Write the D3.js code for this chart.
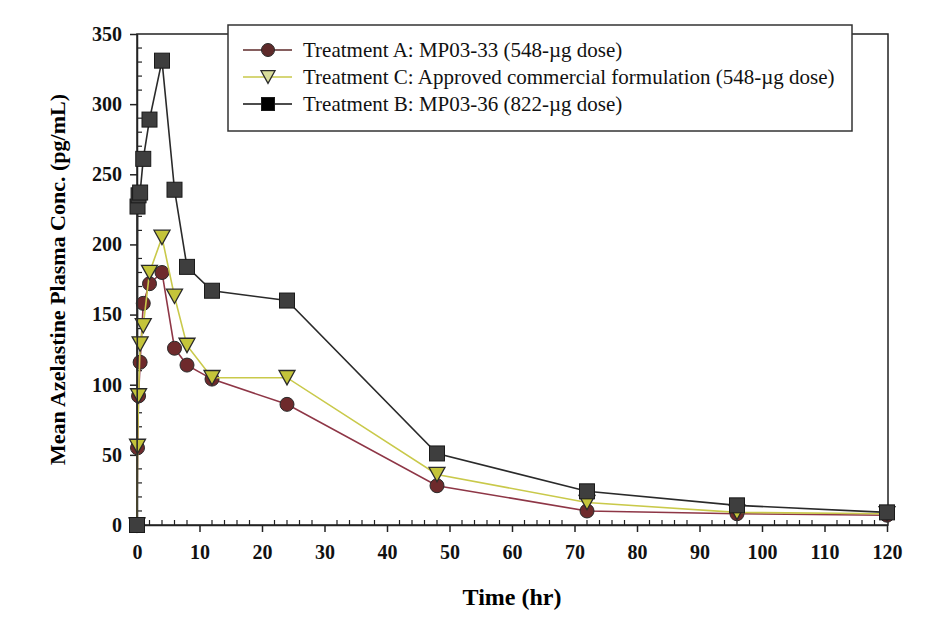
<!DOCTYPE html>
<html>
<head>
<meta charset="utf-8">
<script src="https://cdn.jsdelivr.net/npm/d3@7"></script>
<style>
  body { margin: 0; background: #fff; }
  svg text { font-family: "Liberation Serif", "DejaVu Serif", serif; }
</style>
</head>
<body>
<svg id="chart" width="929" height="617"></svg>
<script>
const width = 929;
const height = 617;
const margin = { top: 34, right: 42, bottom: 92, left: 137 };

// Sampling times (hr)
const times = [0, 0.083, 0.25, 0.5, 1, 2, 4, 6, 8, 12, 24, 48, 72, 96, 120];

// Mean plasma concentration (pg/mL) for each treatment
const treatmentA = [0, 55, 92, 116, 158, 172, 180, 126, 114, 104, 86, 28, 10, 8, 7];
const treatmentC = [0, 56, 92, 129, 142, 180, 205, 163, 128, 105, 105, 36, 16, 9, 8];
const treatmentB = [0, 227, 235, 237, 261, 289, 331, 239, 184, 167, 160, 51, 24, 14, 9];

const legendLabels = [
  "Treatment A: MP03-33 (548-\u00b5g dose)",
  "Treatment C: Approved commercial formulation (548-\u00b5g dose)",
  "Treatment B: MP03-36 (822-\u00b5g dose)",
];

const xTicks = d3.range(0, 121, 10);
const yTicks = d3.range(0, 351, 50);

const svg = d3.select("#chart");
const serif = '"Liberation Serif", "DejaVu Serif", serif';

const xScale = d3
  .scaleLinear()
  .domain([0, 120])
  .range([margin.left, width - margin.right]);

const yScale = d3
  .scaleLinear()
  .domain([0, 350])
  .range([height - margin.bottom, margin.top]);

const series = [
  { name: legendLabels[0], values: treatmentA, line: "#8e3646", fill: "#6e2a2c", legendLine: "#5e2a2a", shape: "circle" },
  { name: legendLabels[1], values: treatmentC, line: "#c9c94a", fill: "#c4c43a", legendLine: "#c9c94a", shape: "triangle" },
  { name: legendLabels[2], values: treatmentB, line: "#2a2a2a", fill: "#3e3e3e", legendLine: "#111", shape: "square" },
];

// frame
svg
  .append("rect")
  .attr("x", xScale(0))
  .attr("y", yScale(350))
  .attr("width", xScale(120) - xScale(0) + 1)
  .attr("height", yScale(0) - yScale(350))
  .attr("fill", "none")
  .attr("stroke", "#222")
  .attr("stroke-width", 1.5);

// x-axis: major ticks outward, minor ticks inward
const xAxis = d3
  .axisBottom(xScale)
  .tickValues(xTicks)
  .tickSize(7)
  .tickSizeOuter(0)
  .tickPadding(13);
const gx = svg
  .append("g")
  .attr("transform", `translate(0, ${yScale(0)})`)
  .call(xAxis);
gx.attr("font-family", null);
gx.select(".domain").attr("stroke", "#222").attr("stroke-width", 1.5);
gx.selectAll("line").attr("stroke", "#222").attr("stroke-width", 1.5);
gx.selectAll("text")
  .style("font-family", serif)
  .style("font-size", "20px")
  .style("font-weight", "bold")
  .attr("fill", "#111");

svg
  .append("g")
  .selectAll("line")
  .data(d3.range(0, 121, 2).filter((d) => d % 10 !== 0))
  .enter()
  .append("line")
  .attr("x1", (d) => xScale(d))
  .attr("x2", (d) => xScale(d))
  .attr("y1", yScale(0))
  .attr("y2", yScale(0) - 5)
  .attr("stroke", "#222")
  .attr("stroke-width", 1.2);

// y-axis
const yAxis = d3
  .axisLeft(yScale)
  .tickValues(yTicks)
  .tickSize(7)
  .tickSizeOuter(0)
  .tickPadding(8);
const gy = svg
  .append("g")
  .attr("transform", `translate(${xScale(0)}, 0)`)
  .call(yAxis);
gy.attr("font-family", null);
gy.select(".domain").attr("stroke", "#222").attr("stroke-width", 1.5);
gy.selectAll("line").attr("stroke", "#222").attr("stroke-width", 1.5);
gy.selectAll("text")
  .style("font-family", serif)
  .style("font-size", "20px")
  .style("font-weight", "bold")
  .attr("fill", "#111");

svg
  .append("g")
  .selectAll("line")
  .data(d3.range(0, 351, 10).filter((d) => d % 50 !== 0))
  .enter()
  .append("line")
  .attr("x1", xScale(0))
  .attr("x2", xScale(0) + 5)
  .attr("y1", (d) => yScale(d))
  .attr("y2", (d) => yScale(d))
  .attr("stroke", "#222")
  .attr("stroke-width", 1.2);

// axis titles
svg
  .append("text")
  .attr("x", (xScale(0) + xScale(120)) / 2)
  .attr("y", 605)
  .style("text-anchor", "middle")
  .style("font-family", serif)
  .style("font-size", "24px")
  .style("font-weight", "bold")
  .text("Time (hr)");

svg
  .append("text")
  .attr("transform", `translate(65, ${(yScale(0) + yScale(350)) / 2}) rotate(-90)`)
  .style("text-anchor", "middle")
  .style("font-family", serif)
  .style("font-size", "22px")
  .style("font-weight", "bold")
  .text("Mean Azelastine Plasma Conc. (pg/mL)");

// marker helper
function drawMarker(g, shape, x, y, fill, size) {
  if (shape === "circle") {
    g.append("circle")
      .attr("cx", x).attr("cy", y).attr("r", size / 2)
      .attr("fill", fill).attr("stroke", "#2a2a2a").attr("stroke-width", 1);
  } else if (shape === "square") {
    g.append("rect")
      .attr("x", x - size / 2).attr("y", y - size / 2)
      .attr("width", size).attr("height", size)
      .attr("fill", fill).attr("stroke", "#1a1a1a").attr("stroke-width", 1);
  } else {
    const h = size * 0.9;
    g.append("path")
      .attr("d", `M${x - size / 2},${y - h / 2}L${x + size / 2},${y - h / 2}L${x},${y + h / 2}Z`)
      .attr("fill", fill).attr("stroke", "#2a2a2a").attr("stroke-width", 1.3);
  }
}

const line = d3
  .line()
  .x((d) => xScale(d[0]))
  .y((d) => yScale(d[1]));

const markerSize = { circle: 14, triangle: 16, square: 15 };

series.forEach((s) => {
  const pts = times.map((t, i) => [t, s.values[i]]);
  svg
    .append("path")
    .datum(pts)
    .attr("d", line)
    .attr("fill", "none")
    .attr("stroke", s.line)
    .attr("stroke-width", 1.6);
  const g = svg.append("g");
  pts.forEach((p) => drawMarker(g, s.shape, xScale(p[0]), yScale(p[1]), s.fill, markerSize[s.shape]));
});

// legend
const legend = svg.append("g");
legend
  .append("rect")
  .attr("x", 228)
  .attr("y", 25)
  .attr("width", 624)
  .attr("height", 106)
  .attr("fill", "#fff")
  .attr("stroke", "#333")
  .attr("stroke-width", 1.5);

const legendY = [50, 77, 104];
series.forEach((s, i) => {
  legend
    .append("line")
    .attr("x1", 243)
    .attr("x2", 292)
    .attr("y1", legendY[i])
    .attr("y2", legendY[i])
    .attr("stroke", s.legendLine)
    .attr("stroke-width", 1.6);
  const fill = s.shape === "square" ? "#000" : s.shape === "triangle" ? "#d8dc9a" : "#5e2a2a";
  drawMarker(legend, s.shape, 268, legendY[i], fill, s.shape === "triangle" ? 14 : 13);
  legend
    .append("text")
    .attr("x", 303)
    .attr("y", legendY[i] + 7)
    .style("font-family", serif)
    .style("font-size", "21px")
    .attr("fill", "#111")
    .text(s.name);
});
</script>
</body>
</html>
